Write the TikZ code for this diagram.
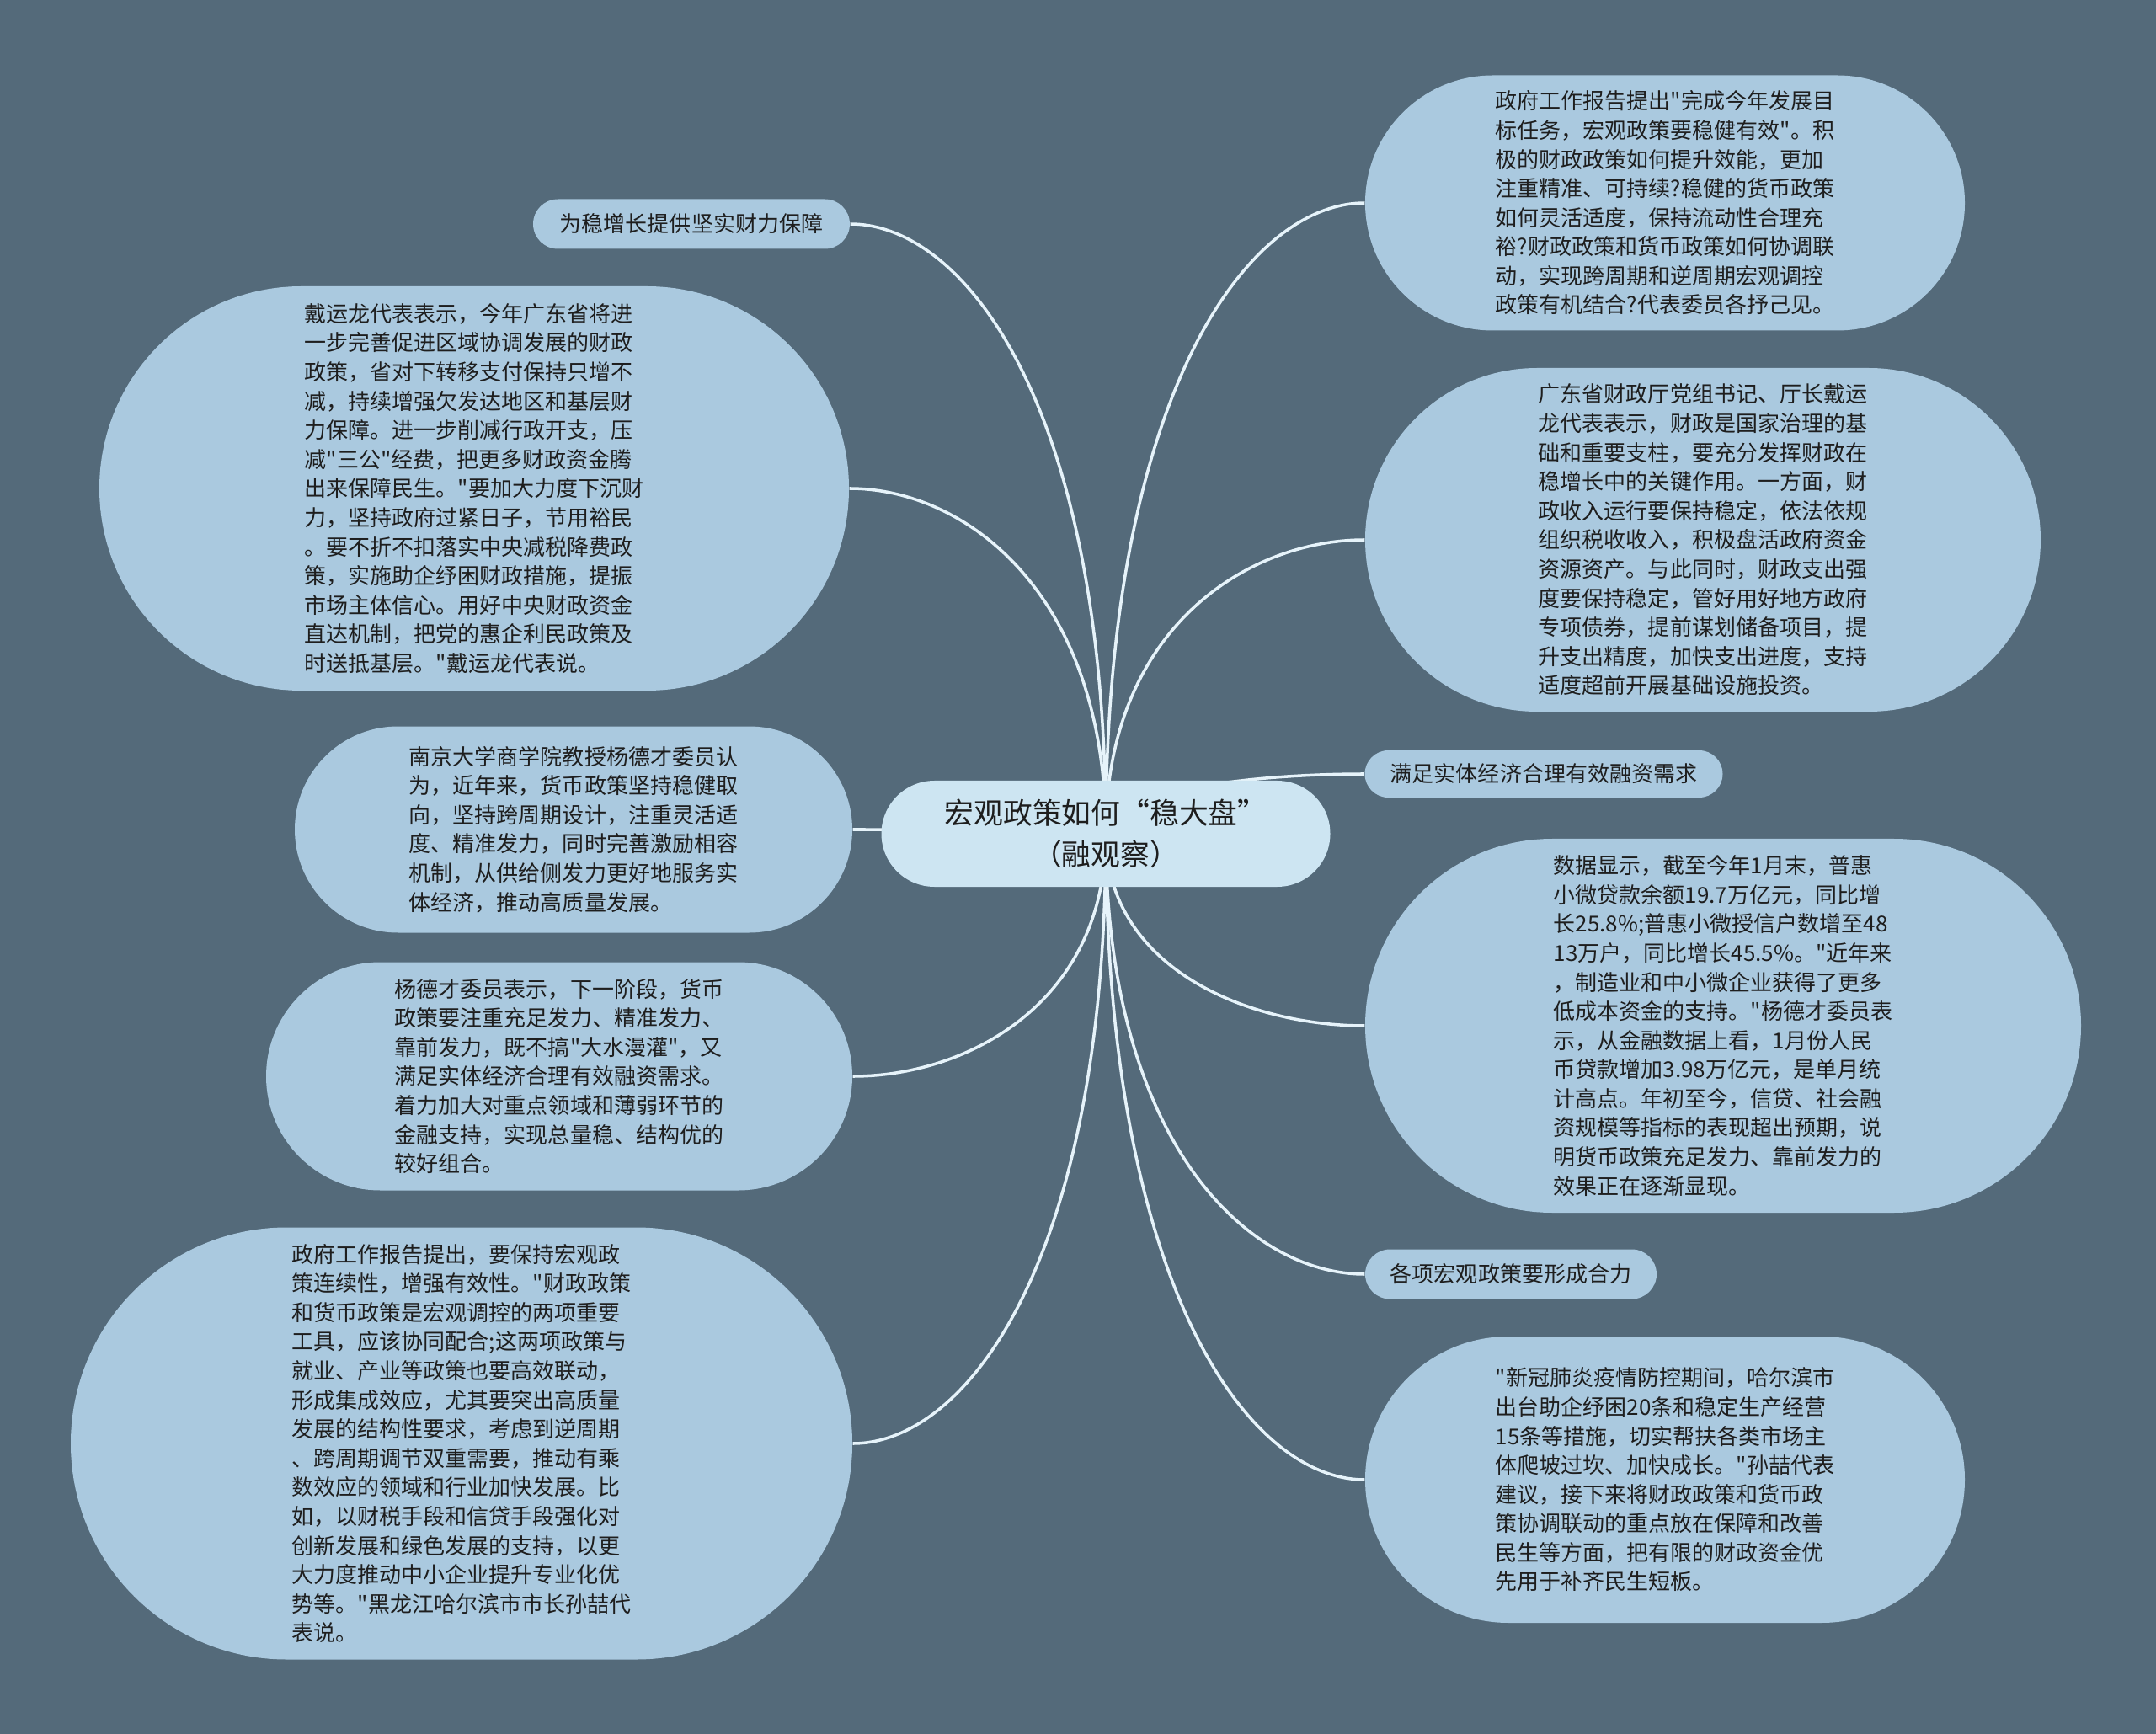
\documentclass[tikz,border=0pt]{standalone}
\usepackage{fontspec}
\usepackage{xcolor}
\setmainfont{Noto Sans CJK SC}[Ligatures=TeXOff]
\usetikzlibrary{shapes.misc,calc,backgrounds}

\definecolor{slate}{HTML}{546A7A}
\definecolor{leafblue}{HTML}{AAC9DF}
\definecolor{coreblue}{HTML}{CDE5F2}
\definecolor{wire}{HTML}{E6F3FA}
\definecolor{ink}{HTML}{1E1E1E}

\begin{document}
\begin{tikzpicture}[x=1cm,y=-1cm,
    leaf/.style={rounded rectangle, fill=leafblue, text=ink, inner sep=0pt,
      align=left, font=\fontsize{7.4}{9.84}\selectfont},
    core/.style={leaf, fill=coreblue, align=center, font=\fontsize{9.9}{13.9}\selectfont},
    link/.style={wire, line width=1pt,
      to path={.. controls ($(\tikztostart)!0.7!(\tikztostart |- \tikztotarget)$)
        and ($(\tikztotarget)!0.45!(\tikztostart |- \tikztotarget)$) .. (\tikztotarget)}}]
  \useasboundingbox (0,0) rectangle (25.6,20.59);
  % Root topic
  \node[core, minimum width=5.33cm, minimum height=1.26cm] (root) at (13.13,9.90)
    {宏观政策如何“稳大盘”\\（融观察）};
  % Left side, top to bottom
  \node[leaf, minimum width=3.76cm, minimum height=0.59cm] (grow) at (8.21,2.66)
    {为稳增长提供坚实财力保障};
  \node[leaf, minimum width=8.90cm, minimum height=4.80cm] (dai) at (5.63,5.80)
    {戴运龙代表表示，今年广东省将进\\
     一步完善促进区域协调发展的财政\\
     政策，省对下转移支付保持只增不\\
     减，持续增强欠发达地区和基层财\\
     力保障。进一步削减行政开支，压\\
     减"三公"经费，把更多财政资金腾\\
     出来保障民生。"要加大力度下沉财\\
     力，坚持政府过紧日子，节用裕民\\
     。要不折不扣落实中央减税降费政\\
     策，实施助企纾困财政措施，提振\\
     市场主体信心。用好中央财政资金\\
     直达机制，把党的惠企利民政策及\\
     时送抵基层。"戴运龙代表说。};
  \node[leaf, minimum width=6.62cm, minimum height=2.45cm] (nju) at (6.81,9.85)
    {南京大学商学院教授杨德才委员认\\
     为，近年来，货币政策坚持稳健取\\
     向，坚持跨周期设计，注重灵活适\\
     度、精准发力，同时完善激励相容\\
     机制，从供给侧发力更好地服务实\\
     体经济，推动高质量发展。};
  \node[leaf, minimum width=6.96cm, minimum height=2.71cm] (yang) at (6.64,12.78)
    {杨德才委员表示，下一阶段，货币\\
     政策要注重充足发力、精准发力、\\
     靠前发力，既不搞"大水漫灌"，又\\
     满足实体经济合理有效融资需求。\\
     着力加大对重点领域和薄弱环节的\\
     金融支持，实现总量稳、结构优的\\
     较好组合。};
  \node[leaf, minimum width=9.28cm, minimum height=5.13cm] (gov) at (5.48,17.14)
    {政府工作报告提出，要保持宏观政\\
     策连续性，增强有效性。"财政政策\\
     和货币政策是宏观调控的两项重要\\
     工具，应该协同配合;这两项政策与\\
     就业、产业等政策也要高效联动，\\
     形成集成效应，尤其要突出高质量\\
     发展的结构性要求，考虑到逆周期\\
     、跨周期调节双重需要，推动有乘\\
     数效应的领域和行业加快发展。比\\
     如，以财税手段和信贷手段强化对\\
     创新发展和绿色发展的支持，以更\\
     大力度推动中小企业提升专业化优\\
     势等。"黑龙江哈尔滨市市长孙喆代\\
     表说。};
  % Right side, top to bottom
  \node[leaf, minimum width=7.12cm, minimum height=3.03cm] (report) at (19.77,2.41)
    {政府工作报告提出"完成今年发展目\\
     标任务，宏观政策要稳健有效"。积\\
     极的财政政策如何提升效能，更加\\
     注重精准、可持续?稳健的货币政策\\
     如何灵活适度，保持流动性合理充\\
     裕?财政政策和货币政策如何协调联\\
     动，实现跨周期和逆周期宏观调控\\
     政策有机结合?代表委员各抒己见。};
  \node[leaf, minimum width=8.02cm, minimum height=4.08cm] (gd) at (20.22,6.41)
    {广东省财政厅党组书记、厅长戴运\\
     龙代表表示，财政是国家治理的基\\
     础和重要支柱，要充分发挥财政在\\
     稳增长中的关键作用。一方面，财\\
     政收入运行要保持稳定，依法依规\\
     组织税收收入，积极盘活政府资金\\
     资源资产。与此同时，财政支出强\\
     度要保持稳定，管好用好地方政府\\
     专项债券，提前谋划储备项目，提\\
     升支出精度，加快支出进度，支持\\
     适度超前开展基础设施投资。};
  \node[leaf, minimum width=4.25cm, minimum height=0.56cm] (need) at (18.33,9.19)
    {满足实体经济合理有效融资需求};
  \node[leaf, minimum width=8.50cm, minimum height=4.44cm] (data) at (20.46,12.18)
    {数据显示，截至今年1月末，普惠\\
     小微贷款余额19.7万亿元，同比增\\
     长25.8\%;普惠小微授信户数增至48\\
     13万户，同比增长45.5\%。"近年来\\
     ，制造业和中小微企业获得了更多\\
     低成本资金的支持。"杨德才委员表\\
     示，从金融数据上看，1月份人民\\
     币贷款增加3.98万亿元，是单月统\\
     计高点。年初至今，信贷、社会融\\
     资规模等指标的表现超出预期，说\\
     明货币政策充足发力、靠前发力的\\
     效果正在逐渐显现。};
  \node[leaf, minimum width=3.46cm, minimum height=0.59cm] (force) at (17.94,15.13)
    {各项宏观政策要形成合力};
  \node[leaf, minimum width=7.12cm, minimum height=3.40cm] (hrb) at (19.77,17.57)
    {"新冠肺炎疫情防控期间，哈尔滨市\\
     出台助企纾困20条和稳定生产经营\\
     15条等措施，切实帮扶各类市场主\\
     体爬坡过坎、加快成长。"孙喆代表\\
     建议，接下来将财政政策和货币政\\
     策协调联动的重点放在保障和改善\\
     民生等方面，把有限的财政资金优\\
     先用于补齐民生短板。};
  % Backdrop and branches behind the nodes
  \begin{scope}[on background layer]
    \fill[slate] (0,0) rectangle (25.6,20.59);
    \foreach \leafname/\side in {grow/east,dai/east,nju/east,yang/east,gov/east,
        report/west,gd/west,need/west,data/west,force/west,hrb/west}
      \draw[link] (root.center) to (\leafname.\side);
  \end{scope}
\end{tikzpicture}
\end{document}
